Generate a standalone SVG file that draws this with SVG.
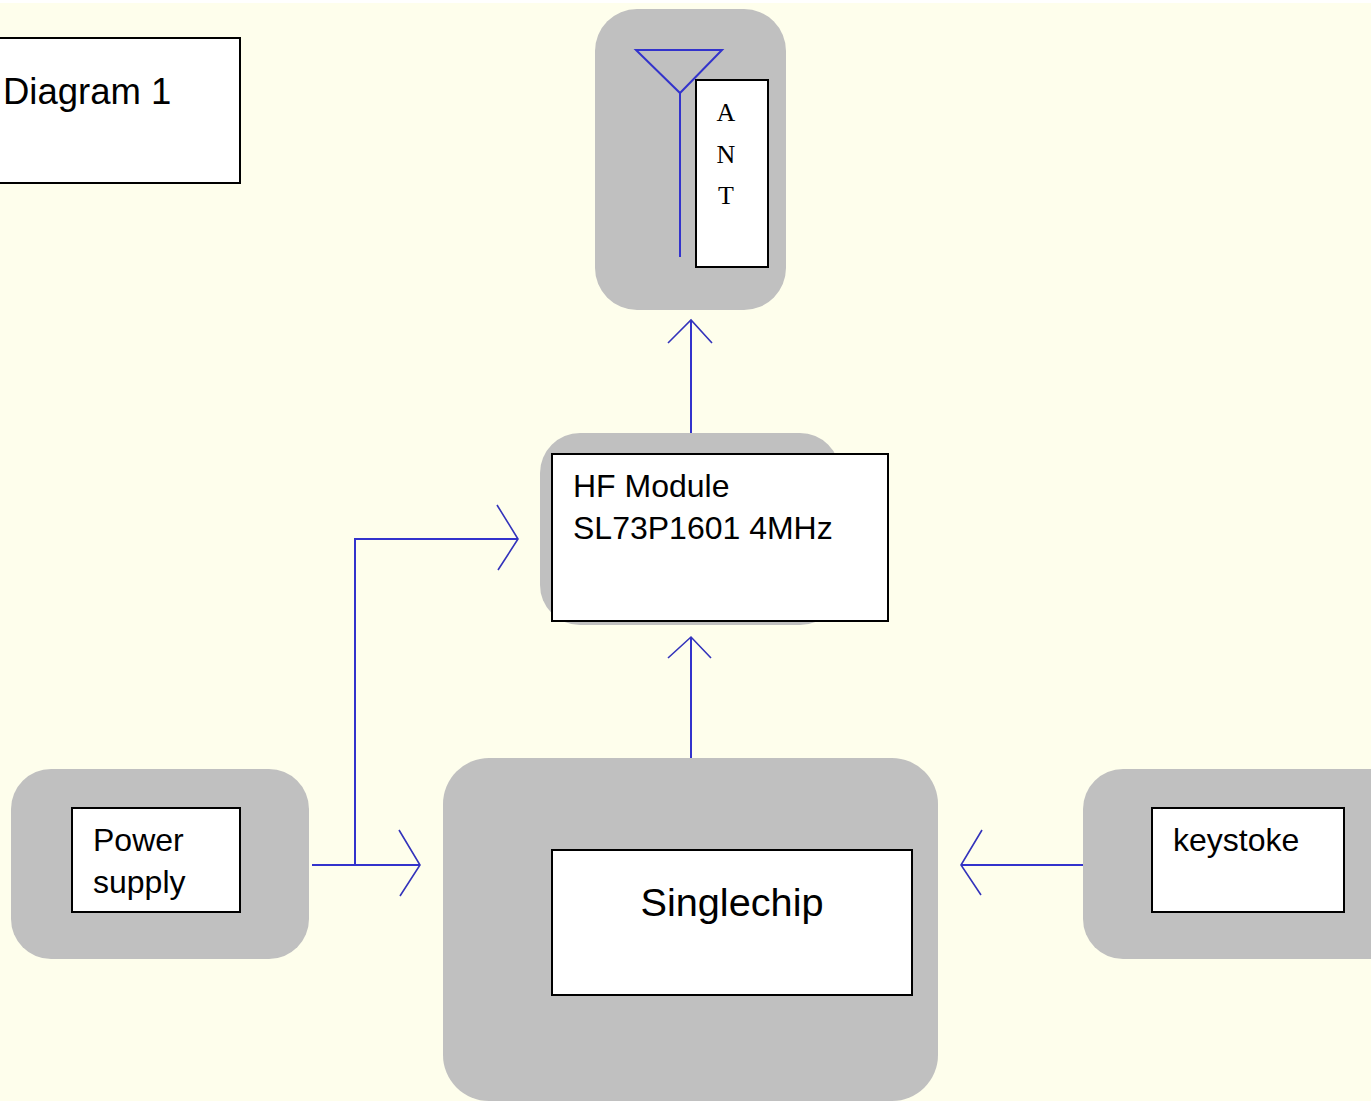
<svg xmlns="http://www.w3.org/2000/svg" width="1371" height="1101" viewBox="0 0 1371 1101">
<style>
.bg{fill:#C0C0C0;stroke:none}
.box{fill:#FFFFFF;stroke:#000000;stroke-width:2}
.t{font-family:"Liberation Sans",Arial,sans-serif;fill:#000000}
.ts{font-family:"Liberation Serif","Times New Roman",serif;fill:#000000;font-size:26px}
.ln{fill:none;stroke:#3333CC;stroke-width:2}
.ah{fill:none;stroke:#3333BB;stroke-width:1.6}
</style>
<rect x="0" y="0" width="1371" height="1101" fill="#FEFEEC"/>
<rect x="0" y="0" width="1371" height="3" fill="#FFFFFF"/>
<g id="diagram-title">
<rect class="box" x="-2" y="38" width="242" height="145"/>
<text class="t" x="3" y="104" font-size="36.5">Diagram 1</text>
</g>
<g id="antenna">
<rect class="bg" x="595" y="9" width="191" height="301" rx="42"/>
<path class="ln" d="M636,50 L722,50 L680,93 Z M680,93 L680,257"/>
<rect class="box" x="696" y="80" width="72" height="187"/>
<text class="ts" x="726" y="121" text-anchor="middle">A</text>
<text class="ts" x="726" y="163" text-anchor="middle">N</text>
<text class="ts" x="726" y="204" text-anchor="middle">T</text>
</g>
<g id="hf-module">
<rect class="bg" x="540" y="433" width="300" height="192" rx="40"/>
<rect class="box" x="552" y="454" width="336" height="167"/>
<text class="t" x="573" y="497" font-size="32">HF Module</text>
<text class="t" x="573" y="539" font-size="32">SL73P1601 4MHz</text>
</g>
<g id="singlechip">
<rect class="bg" x="443" y="758" width="495" height="343" rx="46"/>
<rect class="box" x="552" y="850" width="360" height="145"/>
<text class="t" x="732" y="916" font-size="39.7" text-anchor="middle">Singlechip</text>
</g>
<g id="power-supply">
<rect class="bg" x="11" y="769" width="298" height="190" rx="40"/>
<rect class="box" x="72" y="808" width="168" height="104"/>
<text class="t" x="93" y="851" font-size="32">Power</text>
<text class="t" x="93" y="893" font-size="32">supply</text>
</g>
<g id="keystoke">
<rect class="bg" x="1083" y="769" width="330" height="190" rx="40"/>
<rect class="box" x="1152" y="808" width="192" height="104"/>
<text class="t" x="1173" y="851" font-size="32">keystoke</text>
</g>
<g id="connectors">
<path class="ln" d="M691,433 L691,321"/>
<path class="ah" d="M668,343 L691,320 L712,343"/>
<path class="ln" d="M691,758 L691,638"/>
<path class="ah" d="M668,658 L691,637 L711,658"/>
<path class="ln" d="M312,865 L420,865"/>
<path class="ah" d="M399,830 L420,865 L400,896"/>
<path class="ln" d="M355,865 L355,539 L518,539"/>
<path class="ah" d="M497,505 L518,539 L498,570"/>
<path class="ln" d="M1083,865 L962,865"/>
<path class="ah" d="M982,830 L961,865 L981,895"/>
</g>
</svg>
